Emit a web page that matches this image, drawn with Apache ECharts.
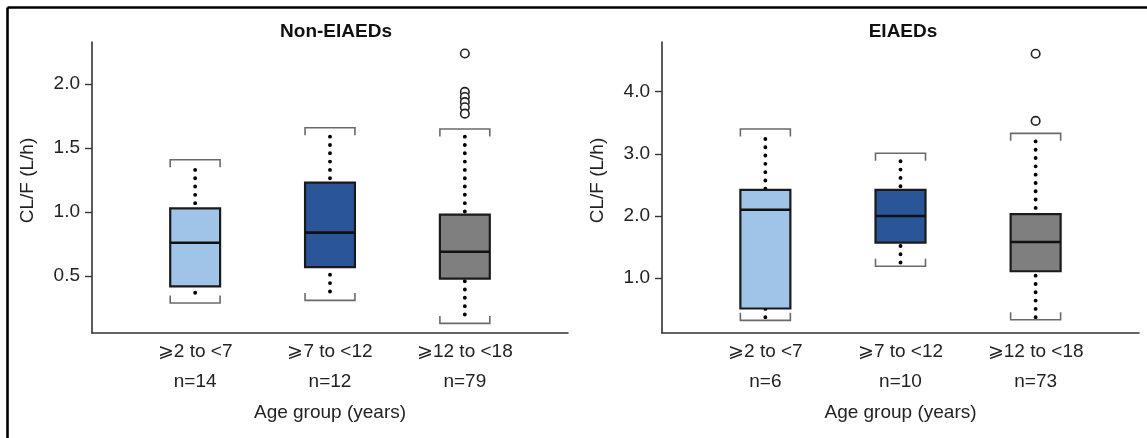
<!DOCTYPE html>
<html>
<head>
<meta charset="utf-8">
<script src="https://cdn.jsdelivr.net/npm/echarts@6/dist/echarts.min.js"></script>
<style>
html,body{margin:0;padding:0;background:#fff;}
#c{width:1147px;height:438px;}
</style>
</head>
<body>
<div id="c"></div>
<script>
// ---- data ----
const categories = ['⩾2 to <7', '⩾7 to <12', '⩾12 to <18'];
const panelTitles = ['Non-EIAEDs', 'EIAEDs'];

// Non-EIAEDs
const nonN = [14, 12, 79];
const nonQ1 = [0.42, 0.57, 0.48];
const nonMedian = [0.76, 0.84, 0.69];
const nonQ3 = [1.03, 1.23, 0.98];
const nonWhiskerLow = [0.37, 0.38, 0.20];
const nonWhiskerHigh = [1.33, 1.59, 1.59];
const nonCapLow = [0.29, 0.31, 0.13];
const nonCapHigh = [1.41, 1.66, 1.65];
const nonOutliers = [[], [], [2.24, 1.94, 1.90, 1.86, 1.82, 1.77]];
const nonYTicks = [0.5, 1.0, 1.5, 2.0];

// EIAEDs
const eiN = [6, 10, 73];
const eiQ1 = [0.51, 1.57, 1.11];
const eiMedian = [2.10, 2.00, 1.58];
const eiQ3 = [2.42, 2.42, 2.03];
const eiWhiskerLow = [0.37, 1.25, 0.37];
const eiWhiskerHigh = [3.24, 2.88, 3.20];
const eiCapLow = [0.32, 1.19, 0.33];
const eiCapHigh = [3.40, 3.01, 3.33];
const eiOutliers = [[], [], [4.61, 3.53]];
const eiYTicks = [1.0, 2.0, 3.0, 4.0];

// ---- styling ----
const boxColors = ['#9fc4e7', '#2a5699', '#7f7f7f'];
const FONT = '"Liberation Sans", Arial, Helvetica, sans-serif';
const FS = 19;
const BOX_W = 0.37; // in category units

function boxData(q1, med, q3, wl, wh, cl, ch) {
  return categories.map((c, i) => ({
    value: [i + 1, q1[i], med[i], q3[i], wl[i], wh[i], cl[i], ch[i]],
    itemStyle: { color: boxColors[i] }
  }));
}
function outlierData(outs) {
  const d = [];
  outs.forEach((arr, i) => arr.forEach(v => d.push([i + 1, v])));
  return d;
}

function renderBox(params, api) {
  const x = api.value(0);
  const pQ1 = api.coord([x, api.value(1)]);
  const pMed = api.coord([x, api.value(2)]);
  const pQ3 = api.coord([x, api.value(3)]);
  const pWL = api.coord([x, api.value(4)]);
  const pWH = api.coord([x, api.value(5)]);
  const pCL = api.coord([x, api.value(6)]);
  const pCH = api.coord([x, api.value(7)]);
  const cx = pQ1[0];
  const hw = api.size([BOX_W, 0])[0] / 2;
  const fill = api.visual('color');
  const leg = 7.5;
  const dotStyle = { stroke: '#000', lineWidth: 3.9, lineDash: [0.01, 8.3], lineCap: 'round' };
  const capStyle = { stroke: '#6a6a6a', lineWidth: 1.6, fill: null };
  return {
    type: 'group',
    children: [
      { type: 'line', shape: { x1: cx, y1: pWH[1], x2: cx, y2: pQ3[1] }, style: dotStyle },
      { type: 'line', shape: { x1: cx, y1: pWL[1], x2: cx, y2: pQ1[1] }, style: dotStyle },
      { type: 'polyline', shape: { points: [[cx - hw, pCH[1] + leg], [cx - hw, pCH[1]], [cx + hw, pCH[1]], [cx + hw, pCH[1] + leg]] }, style: capStyle },
      { type: 'polyline', shape: { points: [[cx - hw, pCL[1] - leg], [cx - hw, pCL[1]], [cx + hw, pCL[1]], [cx + hw, pCL[1] - leg]] }, style: capStyle },
      { type: 'rect', shape: { x: cx - hw, y: pQ3[1], width: hw * 2, height: pQ1[1] - pQ3[1] }, style: { fill: fill, stroke: '#1a1a1a', lineWidth: 2.2 } },
      { type: 'line', shape: { x1: cx - hw, y1: pMed[1], x2: cx + hw, y2: pMed[1] }, style: { stroke: '#111', lineWidth: 2.6 } }
    ]
  };
}

function xAxisFor(gridIndex, ns) {
  return {
    type: 'value', gridIndex: gridIndex, min: 0.235, max: 3.765,
    name: 'Age group (years)', nameLocation: 'middle', nameGap: 70,
    nameTextStyle: { fontSize: FS, color: '#222', fontFamily: FONT },
    axisLine: { show: true, onZero: false, lineStyle: { color: '#333', width: 1.6 } },
    axisTick: { show: false },
    splitLine: { show: false },
    axisLabel: {
      customValues: [1, 2, 3],
      margin: 4, fontSize: FS, lineHeight: 30, color: '#222', fontFamily: FONT,
      formatter: v => { const i = Math.round(v) - 1; return categories[i] + '\n' + 'n=' + ns[i]; }
    }
  };
}
function yAxisFor(gridIndex, min, max, ticks) {
  return {
    type: 'value', gridIndex: gridIndex, min: min, max: max,
    name: 'CL/F (L/h)', nameLocation: 'middle', nameGap: 55,
    nameTextStyle: { fontSize: FS, color: '#222', fontFamily: FONT, padding: [0, 0, 0, 14] },
    axisLine: { show: true, onZero: false, lineStyle: { color: '#333', width: 1.6 } },
    axisTick: { show: true, customValues: ticks, length: 7, lineStyle: { color: '#333', width: 1.4 } },
    splitLine: { show: false },
    axisLabel: { customValues: ticks, margin: 12, fontSize: FS, color: '#222', fontFamily: FONT, formatter: v => v.toFixed(1) }
  };
}

const chart = echarts.init(document.getElementById('c'), null, { renderer: 'canvas' });
chart.setOption({
  backgroundColor: '#fff',
  animation: false,
  grid: [
    { left: 92, top: 42, width: 476, height: 291 },
    { left: 662, top: 42, width: 477, height: 291 }
  ],
  xAxis: [xAxisFor(0, nonN), xAxisFor(1, eiN)],
  yAxis: [yAxisFor(0, 0.055, 2.33, nonYTicks), yAxisFor(1, 0.116, 4.80, eiYTicks)],
  graphic: [
    { type: 'line', shape: { x1: 7.5, y1: 7.5, x2: 1147, y2: 7.5 }, style: { stroke: '#000', lineWidth: 2.6 } },
    { type: 'line', shape: { x1: 7.5, y1: 7.5, x2: 7.5, y2: 438 }, style: { stroke: '#000', lineWidth: 2.6 } },
    { type: 'text', x: 336, y: 32, style: { text: panelTitles[0], font: 'bold ' + FS + 'px ' + FONT, fill: '#111', align: 'center', verticalAlign: 'middle' } },
    { type: 'text', x: 903, y: 32, style: { text: panelTitles[1], font: 'bold ' + FS + 'px ' + FONT, fill: '#111', align: 'center', verticalAlign: 'middle' } }
  ],
  series: [
    { type: 'custom', xAxisIndex: 0, yAxisIndex: 0, renderItem: renderBox, encode: { x: 0, y: [1, 2, 3, 4, 5, 6, 7] },
      data: boxData(nonQ1, nonMedian, nonQ3, nonWhiskerLow, nonWhiskerHigh, nonCapLow, nonCapHigh) },
    { type: 'custom', xAxisIndex: 1, yAxisIndex: 1, renderItem: renderBox, encode: { x: 0, y: [1, 2, 3, 4, 5, 6, 7] },
      data: boxData(eiQ1, eiMedian, eiQ3, eiWhiskerLow, eiWhiskerHigh, eiCapLow, eiCapHigh) },
    { type: 'scatter', xAxisIndex: 0, yAxisIndex: 0, symbol: 'circle', symbolSize: 8.5,
      itemStyle: { color: '#fff', borderColor: '#222', borderWidth: 1.6, opacity: 1 }, data: outlierData(nonOutliers) },
    { type: 'scatter', xAxisIndex: 1, yAxisIndex: 1, symbol: 'circle', symbolSize: 8.5,
      itemStyle: { color: '#fff', borderColor: '#222', borderWidth: 1.6, opacity: 1 }, data: outlierData(eiOutliers) }
  ]
});
</script>
</body>
</html>
